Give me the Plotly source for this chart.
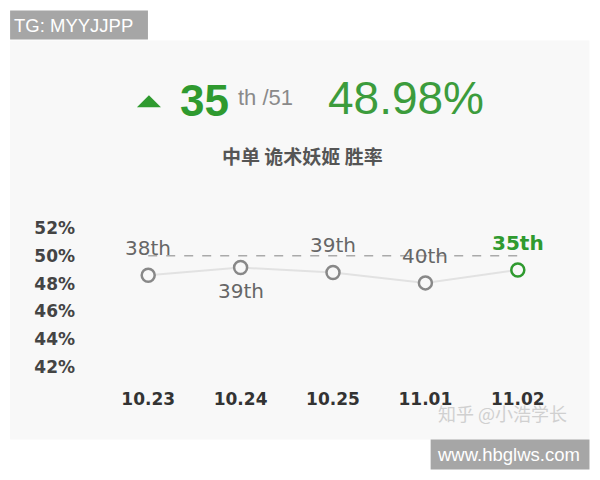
import plotly.graph_objects as go

# ---- data ----
DATES = ["10.23", "10.24", "10.25", "11.01", "11.02"]
WIN_RATE = [48.6, 49.15, 48.8, 48.05, 48.98]
RANKS = ["38th", "39th", "39th", "40th", "35th"]
RANK_SIDE = ["above", "below", "above", "above", "above"]
AVERAGE = 50
Y_TICKS = [42, 44, 46, 48, 50, 52]
Y_TICK_TEXT = ["42%", "44%", "46%", "48%", "50%", "52%"]
CURRENT_RANK = "35"
TOTAL = "51"
CURRENT_RATE = "48.98%"
SUBTITLE = "中单 诡术妖姬 胜率"

W, H = 600, 480
L, R, T, B = 102, 35.5, 214, 98.6
PW, PH = W - L - R, H - T - B


def px(x):
    return (x - L) / PW


def py(y):
    return (H - B - y) / PH


GRAY = "#888888"
GREEN = "#2f9a2f"
colors = [GRAY] * (len(DATES) - 1) + [GREEN]

fig = go.Figure()

# panel background and watermark boxes
fig.add_shape(type="rect", xref="paper", yref="paper", x0=px(10), x1=px(590), y0=py(440), y1=py(40),
              fillcolor="#f8f8f8", line_width=0, layer="below")
fig.add_shape(type="rect", xref="paper", yref="paper", x0=px(10), x1=px(148), y0=py(39), y1=py(10),
              fillcolor="#a6a6a6", line_width=0, layer="below")
fig.add_shape(type="rect", xref="paper", yref="paper", x0=px(431), x1=px(590), y0=py(470), y1=py(440),
              fillcolor="#a6a6a6", line_width=0, layer="below")
# up triangle in header
tri = "M {:.5f},{:.5f} L {:.5f},{:.5f} L {:.5f},{:.5f} Z".format(
    px(137), py(107), px(161), py(107), px(149), py(95))
fig.add_shape(type="path", xref="paper", yref="paper", path=tri, fillcolor=GREEN, line_width=0)

# average dashed line
fig.add_trace(go.Scatter(x=DATES, y=[AVERAGE] * len(DATES), mode="lines",
                         line=dict(color="#aaaaaa", width=1.5, dash="dash"), hoverinfo="skip"))
# win-rate line
fig.add_trace(go.Scatter(x=DATES, y=WIN_RATE, mode="lines+markers",
                         line=dict(color="#e2e2e2", width=2),
                         marker=dict(size=13, color="#f8f8f8", line=dict(color=colors, width=2.5))))

annotations = []
for i, (v, r, s, c) in enumerate(zip(WIN_RATE, RANKS, RANK_SIDE, colors)):
    annotations.append(dict(x=i, y=v, xref="x", yref="y", text=r, showarrow=False,
                            xanchor="center", yanchor="middle",
                            yshift=27 if s == "above" else -23,
                            font=dict(family="DejaVu Sans", size=20,
                                      color=("#666666" if c == GRAY else GREEN),
                                      weight=("normal" if c == GRAY else "bold"))))


def label(x, y, text, xanchor="center", **font):
    return dict(xref="paper", yref="paper", x=px(x), y=py(y), text=text, showarrow=False,
                xanchor=xanchor, yanchor="middle", font=font)


# header
annotations += [
    label(178, 100, CURRENT_RANK, "left", family="Liberation Sans", size=44, color=GREEN, weight="bold"),
    label(236, 97, "th /" + TOTAL, "left", family="Liberation Sans", size=22, color="#8a8a8a"),
    label(326, 98, CURRENT_RATE, "left", family="Liberation Sans", size=46, color="#3c9c3c"),
    label(303, 155, SUBTITLE, family="Noto Sans CJK SC", size=19, color="#555555", weight="bold"),
    label(12, 25, "TG: MYYJJPP", "left", family="Liberation Sans", size=18.5, color="#ffffff"),
    label(509, 455, "www.hbglws.com", family="Liberation Sans", size=18.5, color="#ffffff"),
    label(503, 413, "知乎 @小浩学长", family="Noto Sans CJK SC", size=18, color="#d0d0d0"),
]

fig.update_layout(
    width=W, height=H,
    margin=dict(l=L, r=R, t=T, b=B),
    paper_bgcolor="#ffffff", plot_bgcolor="rgba(0,0,0,0)",
    showlegend=False,
    annotations=annotations,
    xaxis=dict(type="category", range=[-0.5, len(DATES) - 0.5], showgrid=False, zeroline=False,
               showline=False, ticks="", ticklabelstandoff=6,
               tickfont=dict(family="DejaVu Sans", size=17, color="#333333", weight="bold")),
    yaxis=dict(range=[41, 53], tickvals=Y_TICKS, ticktext=Y_TICK_TEXT, showgrid=False, zeroline=False,
               showline=False, ticks="", ticklabelstandoff=26,
               tickfont=dict(family="DejaVu Sans", size=17, color="#444444", weight="bold")),
)

fig.write_html("out.html", config={"displayModeBar": False},
               post_script="document.body.style.margin='0';")
